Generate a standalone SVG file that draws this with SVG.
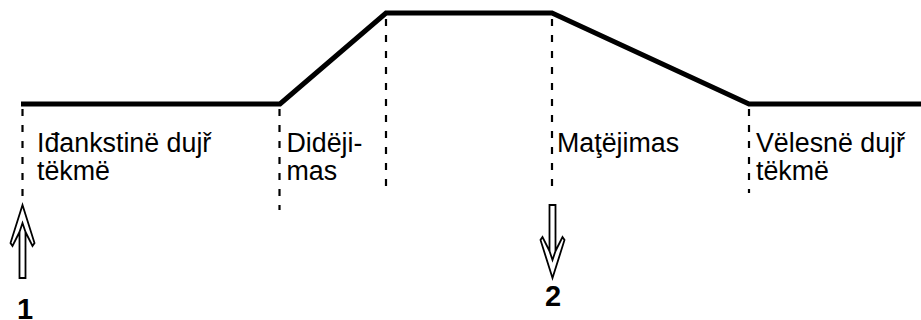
<svg xmlns="http://www.w3.org/2000/svg" width="921" height="320" viewBox="0 0 921 320">
<style>
.lbl{font-family:"Liberation Sans",Arial,sans-serif;font-size:26.8px;fill:#000}
.num{font-family:"Liberation Sans",Arial,sans-serif;font-size:29px;font-weight:bold;fill:#000;text-anchor:middle}
.dash{stroke:#000;stroke-width:2.2;stroke-dasharray:7 9;fill:none}
.curve{stroke:#000;stroke-width:5;fill:none;stroke-linejoin:miter}
.arr{stroke:#000;stroke-width:1.8;fill:#fff;stroke-linejoin:miter}
</style>
<g id="connectors">
<path class="curve" d="M21,104 L280,104 L386,13 L552,13 L749,104 L921,104"/>
<line class="dash" x1="22.5" y1="109" x2="22.5" y2="204"/>
<line class="dash" x1="279.5" y1="109" x2="279.5" y2="210"/>
<line class="dash" x1="386" y1="19" x2="386" y2="186"/>
<line class="dash" x1="552" y1="19" x2="552" y2="186"/>
<line class="dash" x1="749" y1="109" x2="749" y2="193"/>
</g>
<g id="phase1">
<text class="lbl" x="37" y="151.5">Iđankstinë dujř</text>
<text class="lbl" x="37" y="180">tëkmë</text>
</g>
<g id="phase2">
<text class="lbl" x="286.5" y="151.5">Didëji-</text>
<text class="lbl" x="286.5" y="180">mas</text>
</g>
<g id="phase3">
<text class="lbl" x="557" y="151.5">Maţëjimas</text>
</g>
<g id="phase4">
<text class="lbl" x="756" y="151.5">Vëlesnë dujř</text>
<text class="lbl" x="756" y="180">tëkmë</text>
</g>
<g id="arrow1">
<path class="arr" d="M22.5,205 L10.5,243 L12.5,246 L19.5,232 L19.5,278 L25.5,278 L25.5,232 L32.5,246 L34.5,243 Z"/>
<path class="arr" fill="none" d="M19.5,232 L22.5,223 L25.5,232"/>
<text class="num" x="25" y="319">1</text>
</g>
<g id="arrow2">
<path class="arr" d="M552.5,278 L540.5,240 L542.5,237 L549.5,251 L549.5,205 L555.5,205 L555.5,251 L562.5,237 L564.5,240 Z"/>
<path class="arr" fill="none" d="M549.5,251 L552.5,260 L555.5,251"/>
<text class="num" x="553" y="306">2</text>
</g>
</svg>
